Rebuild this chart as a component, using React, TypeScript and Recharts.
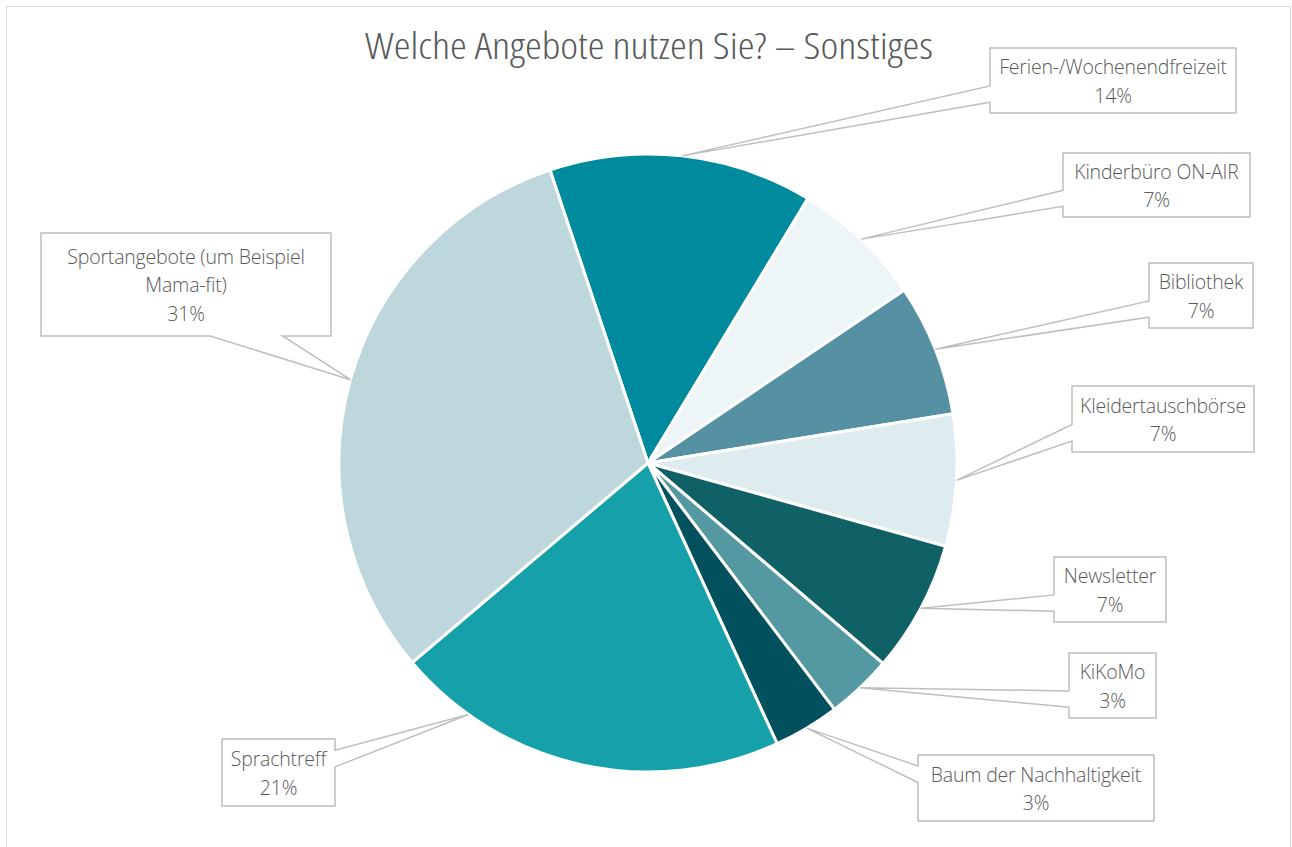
import { PieChart, Pie, Cell } from 'recharts';

const offers = [
  'Ferien-/Wochenendfreizeit',
  'Kinderbüro ON-AIR',
  'Bibliothek',
  'Kleidertauschbörse',
  'Newsletter',
  'KiKoMo',
  'Baum der Nachhaltigkeit',
  'Sprachtreff',
  'Sportangebote (um Beispiel Mama-fit)',
];
const answers = [4, 2, 2, 2, 2, 1, 1, 6, 9];
const sliceColors = ['#008a9e', '#edf5f7', '#5591a2', '#deebef', '#0f6166', '#5499a2', '#00505e', '#15a0aa', '#bdd7dc'];

// callout boxes were dragged by hand in the original, so they are placed by hand here too
const boxes = [
  { x: 990, y: 48, w: 246, h: 65 },
  { x: 1063, y: 153, w: 187, h: 64 },
  { x: 1149, y: 263, w: 104, h: 65 },
  { x: 1072, y: 386, w: 182, h: 66 },
  { x: 1054, y: 557, w: 112, h: 65 },
  { x: 1069, y: 653, w: 87, h: 65 },
  { x: 918, y: 755, w: 236, h: 66 },
  { x: 222, y: 739, w: 113, h: 67, tipShift: -23 },
  { x: 41, y: 233, w: 290, h: 103, wrap: 26 },
];

const FONT = "'Open Sans', 'Noto Sans', sans-serif";
const TEXT = '#595959';
const GRID = '#bfbfbf';
const RAD = Math.PI / 180;

const data = offers.map((name, i) => ({ name, value: answers[i] }));

function wrapText(s: string, max?: number) {
  if (!max) return [s];
  const lines: string[] = [];
  let cur = '';
  for (const w of s.split(' ')) {
    const next = cur ? cur + ' ' + w : w;
    if (next.length > max && cur) {
      lines.push(cur);
      cur = w;
    } else cur = next;
  }
  if (cur) lines.push(cur);
  return lines;
}

// rectangle callout with a wedge pointing to the slice, like excel's wedgeRectCallout
function calloutPath(b: { x: number; y: number; w: number; h: number }, tx: number, ty: number) {
  const { x, y, w, h } = b;
  const dx = tx - (x + w / 2);
  const dy = ty - (y + h / 2);
  const TL = [x, y], TR = [x + w, y], BR = [x + w, y + h], BL = [x, y + h];
  const tip = [tx, ty];
  let pts: number[][];
  if (Math.abs(dx) / w > Math.abs(dy) / h) {
    const [f1, f2] = dy > 0 ? [7 / 12, 10 / 12] : [2 / 12, 5 / 12];
    if (dx > 0) pts = [TL, TR, [x + w, y + f1 * h], tip, [x + w, y + f2 * h], BR, BL];
    else pts = [TL, TR, BR, BL, [x, y + f2 * h], tip, [x, y + f1 * h]];
  } else {
    const [f1, f2] = dx > 0 ? [7 / 12, 10 / 12] : [2 / 12, 5 / 12];
    if (dy > 0) pts = [TL, TR, BR, [x + f2 * w, y + h], tip, [x + f1 * w, y + h], BL];
    else pts = [TL, [x + f1 * w, y], tip, [x + f2 * w, y], TR, BR, BL];
  }
  return 'M' + pts.map((p) => p.join(',')).join('L') + 'Z';
}

const renderCallout = (props: any) => {
  const { cx, cy, midAngle, outerRadius, percent, index } = props;
  const b = boxes[index];
  const a = (midAngle + (b.tipShift || 0)) * RAD;
  const tx = cx + outerRadius * Math.cos(a);
  const ty = cy - outerRadius * Math.sin(a);
  const lines = [...wrapText(offers[index], b.wrap), Math.round(percent * 100) + '%'];
  const lh = 28.5;
  const first = b.y + (b.h - lines.length * lh) / 2 + 22;
  return (
    <g key={'callout-' + index}>
      <path d={calloutPath(b, tx, ty)} fill="#fff" stroke={GRID} strokeWidth={1.5} />
      {lines.map((l, i) => (
        <text
          key={i}
          x={b.x + b.w / 2}
          y={first + i * lh}
          textAnchor="middle"
          fill={TEXT}
          fontSize={19.5}
          fontWeight={300}
          fontFamily={FONT}
          letterSpacing={-0.2}
        >
          {l}
        </text>
      ))}
    </g>
  );
};

export default function App() {
  return (
    <div style={{ position: 'absolute', left: 0, top: 0, width: 1292, height: 847, overflow: 'hidden', background: '#fff' }}>
      <div style={{ position: 'absolute', left: 6, top: 6, width: 1283, height: 900, border: '1px solid #d9d9d9' }} />
      <svg style={{ position: 'absolute', left: 0, top: 0 }} width={1292} height={80}>
        <text
          x={649}
          y={59}
          textAnchor="middle"
          textLength={568}
          lengthAdjust="spacingAndGlyphs"
          fill={TEXT}
          fontSize={36}
          fontWeight={300}
          fontFamily={FONT}
          style={{ fontStretch: 'semi-condensed' }}
        >
          Welche Angebote nutzen Sie? – Sonstiges
        </text>
      </svg>
      <div style={{ position: 'absolute', left: 0, top: 0 }}>
        <PieChart width={1292} height={847} margin={{ top: 0, right: 0, bottom: 0, left: 0 }}>
          <Pie
            data={data}
            dataKey="value"
            nameKey="name"
            cx={648}
            cy={463}
            outerRadius={309}
            startAngle={108.5}
            endAngle={-251.5}
            stroke="#fff"
            strokeWidth={3}
            labelLine={false}
            label={renderCallout}
            isAnimationActive={false}
          >
            {data.map((d, i) => (
              <Cell key={d.name} fill={sliceColors[i]} />
            ))}
          </Pie>
        </PieChart>
      </div>
    </div>
  );
}
